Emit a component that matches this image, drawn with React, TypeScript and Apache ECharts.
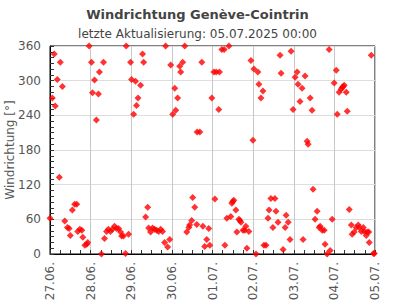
import React, { useEffect, useRef } from "react";
import * as echarts from "echarts";

const titleText = "Windrichtung Genève-Cointrin";
const subtitleText = "letzte Aktualisierung: 05.07.2025 00:00";
const yAxisName = "Windrichtung [°]";
const dayLabels = ["27.06.", "28.06.", "29.06.", "30.06.", "01.07.", "02.07.", "03.07.", "04.07.", "05.07."];

// hours since 27.06. 00:00
const hours = [
  0.0, 1.4, 2.5, 3.1, 4.3, 5.5, 6.1, 7.3, 8.7, 10.3, 11.3, 12.0, 13.2, 14.6, 15.8, 16.4, 17.6, 18.8, 19.4, 20.6,
  21.7, 22.3, 23.1, 24.5, 25.1, 26.3, 27.4, 28.6, 29.2, 30.4, 31.6, 32.2, 33.4, 34.5, 35.7, 36.9, 38.1, 39.3, 40.5, 41.7,
  42.3, 43.4, 44.6, 45.0, 46.4, 47.6, 48.2, 49.4, 50.5, 51.1, 52.0, 53.5, 54.7, 55.3, 56.5, 57.7, 58.3, 59.4, 60.6, 61.8,
  63.0, 64.2, 65.4, 66.5, 67.7, 68.3, 69.5, 70.7, 71.3, 72.5, 73.7, 74.3, 75.4, 76.6, 77.2, 78.4, 79.6, 80.8, 82.0, 82.5,
  83.7, 84.3, 85.5, 86.7, 86.9, 88.5, 89.7, 90.3, 91.4, 92.6, 93.8, 94.4, 95.6, 96.8, 97.4, 98.2, 99.7, 100.1, 101.5, 102.9,
  103.3, 104.5, 105.7, 106.8, 107.4, 108.0, 108.6, 109.8, 110.4, 111.6, 112.2, 112.8, 114.0, 115.1, 115.7, 116.3, 117.5, 118.7, 119.9, 120.5,
  121.7, 122.8, 123.4, 124.6, 125.8, 126.4, 127.6, 128.8, 129.4, 130.5, 131.7, 132.9, 133.5, 134.7, 135.9, 136.5, 137.7, 138.9, 139.5, 140.7,
  141.8, 142.4, 143.6, 144.8, 146.0, 146.5, 147.7, 148.9, 149.5, 150.7, 151.9, 152.5, 153.7, 154.8, 155.4, 156.6, 157.8, 159.0, 159.6, 160.8,
  162.0, 162.5, 163.7, 164.9, 165.5, 166.7, 167.9, 169.1, 169.7, 170.8, 172.0, 172.6, 173.2, 173.8, 175.0, 175.6, 176.8, 178.0, 178.5, 179.7,
  180.9, 182.1, 182.7, 183.9, 185.1, 185.7, 186.8, 187.4, 188.3, 188.6, 189.8, 191.1, 191.6,
];

// wind direction in degrees
const directions = [
  62, 270, 346, 256, 302, 133, 332, 290, 57, 46, 44, 32, 76, 86, 86, 39, 43, 41, 29, 15,
  17, 20, 360, 332, 279, 301, 232, 277, 315, 0, 332, 27, 39, 43, 39, 43, 48, 44, 44, 38,
  31, 31, 1, 360, 34, 332, 302, 242, 299, 257, 270, 292, 346, 332, 64, 81, 45, 38, 45, 43,
  41, 39, 43, 39, 20, 360, 12, 25, 327, 242, 287, 249, 270, 325, 315, 332, 360, 38, 46, 50,
  58, 98, 81, 51, 211, 211, 332, 48, 13, 25, 44, 15, 270, 315, 95, 315, 250, 315, 354, 354,
  15, 62, 360, 65, 88, 91, 93, 76, 38, 60, 58, 55, 41, 41, 48, 10, 39, 335, 197, 320,
  0, 315, 294, 270, 282, 15, 15, 62, 76, 96, 46, 96, 74, 55, 344, 313, 8, 46, 67, 55,
  25, 351, 250, 306, 315, 294, 264, 287, 25, 308, 195, 190, 270, 249, 112, 60, 74, 46, 48, 41,
  41, 17, 0, 354, 6, 60, 296, 318, 242, 280, 285, 288, 290, 292, 280, 247, 77, 50, 34, 38,
  46, 50, 46, 39, 46, 39, 32, 38, 38, 20, 344, 1, 1,
];

export default function App() {
  const ref = useRef<HTMLDivElement>(null);
  useEffect(() => {
    if (!ref.current) return;
    const chart = echarts.init(ref.current, undefined, { renderer: "svg" });
    const data = hours.map((h, i) => [h, directions[i]]);
    const font = "DejaVu Sans";
    chart.setOption({
      animation: false,
      backgroundColor: "#ffffff",
      title: [
        {
          text: titleText,
          left: "center",
          top: 3,
          textStyle: { fontFamily: font, fontSize: 13, fontWeight: "bold", color: "#444444" },
        },
        {
          text: subtitleText,
          left: "center",
          top: 23,
          textStyle: { fontFamily: font, fontSize: 12, fontWeight: "normal", color: "#444444" },
        },
      ],
      grid: {
        left: 50,
        right: 20,
        top: 46,
        bottom: 46,
        outerBoundsMode: "none",
        containLabel: false,
        show: true,
        borderColor: "#000000",
        borderWidth: 1,
        backgroundColor: "transparent",
      },
      xAxis: {
        type: "value",
        min: 0,
        max: 192,
        interval: 24,
        axisLine: { show: true, lineStyle: { color: "#000000", width: 1 } },
        axisTick: { show: true, inside: true, length: 4, lineStyle: { color: "#333333" } },
        minorTick: { show: true, splitNumber: 4, length: 4, lineStyle: { color: "#333333" } },
        splitLine: { show: true, lineStyle: { color: "#c8c8c8", width: 1 } },
        axisLabel: {
          rotate: 90,
          margin: 8,
          fontFamily: font,
          fontSize: 12,
          color: "#555555",
          formatter: (v: number) => dayLabels[Math.round(v / 24)] ?? "",
        },
      },
      yAxis: {
        type: "value",
        min: 0,
        max: 360,
        interval: 60,
        name: yAxisName,
        nameLocation: "middle",
        nameGap: 34,
        nameMoveOverlap: false,
        nameTextStyle: { fontFamily: font, fontSize: 12, color: "#555555" },
        axisLine: { show: true, lineStyle: { color: "#000000", width: 1 } },
        axisTick: { show: true, inside: true, length: 4, lineStyle: { color: "#333333" } },
        minorTick: { show: true, splitNumber: 6, length: 4, lineStyle: { color: "#333333" } },
        splitLine: { show: true, lineStyle: { color: "#dddddd", width: 1 } },
        axisLabel: { fontFamily: font, fontSize: 12, color: "#555555", margin: 9 },
      },
      series: [
        {
          type: "scatter",
          data,
          symbol: "diamond",
          symbolSize: 7,
          itemStyle: { color: "#ff0000" },
          clip: false,
        },
      ],
    });
    return () => chart.dispose();
  }, []);
  return <div ref={ref} style={{ width: 395, height: 300, position: "absolute", left: 0, top: 0 }} />;
}
